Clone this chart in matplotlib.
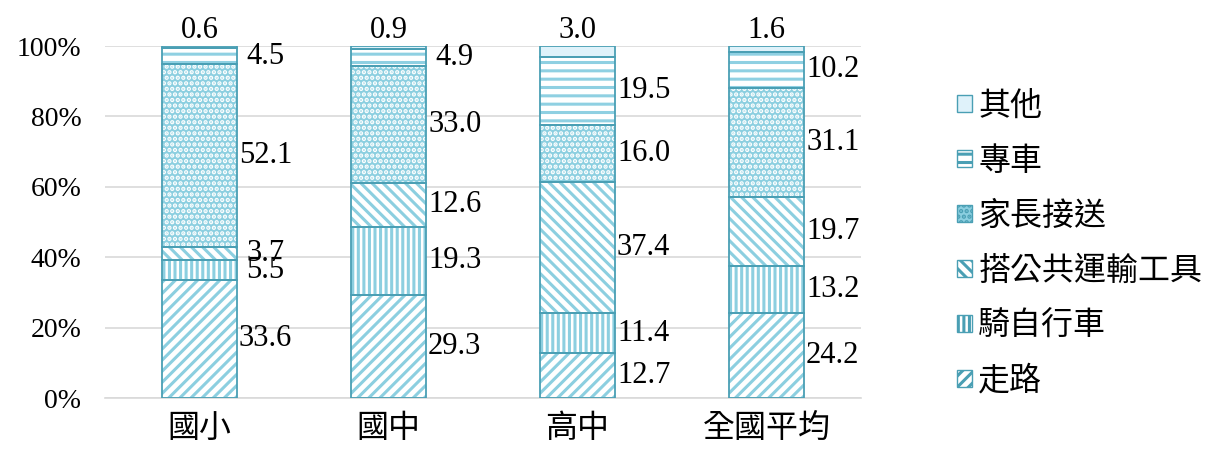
import matplotlib
matplotlib.use("Agg")
import matplotlib.pyplot as plt
from matplotlib.patches import Patch
import numpy as np

# 資料
groups = ['國小', '國中', '高中', '全國平均']
modes = ['走路', '騎自行車', '搭公共運輸工具', '家長接送', '專車', '其他']
walk = [33.6, 29.3, 12.7, 24.2]
bike = [5.5, 19.3, 11.4, 13.2]
public = [3.7, 12.6, 37.4, 19.7]
parent = [52.1, 33.0, 16.0, 31.1]
bus = [4.5, 4.9, 19.5, 10.2]
other = [0.6, 0.9, 3.0, 1.6]
series = [walk, bike, public, parent, bus, other]

# 樣式
edge = '#4a9fb4'
light = '#8ccfe0'
styles = [
    dict(face='white', hcol=light, hatch='///'),
    dict(face='white', hcol=light, hatch='|||'),
    dict(face='white', hcol=light, hatch='\\\\\\'),
    dict(face=light, hcol='white', hatch='...'),
    dict(face='white', hcol='#8fd0e2', hatch='--'),
    dict(face='#dff2fa', hcol='#dff2fa', hatch=None),
]

plt.rcParams['hatch.linewidth'] = 2.2
num_font = ['Liberation Serif', 'Noto Sans CJK TC']
cjk_font = ['Noto Sans CJK TC']

fig = plt.figure(figsize=(12.06, 4.53), dpi=100)
ax = fig.add_axes([0.087, 0.1214, 0.627, 0.777])

x = np.arange(len(groups))
w = 0.40
bottom = np.zeros(len(groups))
for vals, st in zip(series, styles):
    vals = np.array(vals)
    ax.bar(x, vals, w, bottom=bottom, color=st['face'], edgecolor=st['hcol'],
           hatch=st['hatch'], linewidth=0, zorder=2)
    ax.bar(x, vals, w, bottom=bottom, color='none', edgecolor=edge,
           linewidth=1.3, zorder=3)
    bottom += vals

# 數值標籤
bottom = np.zeros(len(groups))
for k, vals in enumerate(series):
    for i, v in enumerate(vals):
        if k == len(series) - 1:
            ax.text(x[i], 100.2, f'{v:.1f}', ha='center', va='bottom',
                    fontsize=22, family=num_font, zorder=4)
        else:
            ax.text(x[i] + 0.35, bottom[i] + v / 2, f'{v:.1f}', ha='center',
                    va='center', fontsize=22, family=num_font, zorder=4)
    bottom += np.array(vals)

ax.set_xlim(-0.5, len(groups) - 0.5)
ax.set_ylim(0, 100)
ax.set_yticks(range(0, 101, 20))
ax.set_yticklabels([f'{t}%' for t in range(0, 101, 20)], family=num_font, fontsize=20)
ax.set_xticks(x)
ax.set_xticklabels(groups, family=cjk_font, fontsize=23)
ax.tick_params(axis='y', length=0, pad=17)
ax.tick_params(axis='x', length=0, pad=10)
ax.yaxis.grid(True, color='#d9d9d9', linewidth=1.2, zorder=0)
ax.set_axisbelow(True)
for s in ['left', 'right', 'top']:
    ax.spines[s].set_visible(False)
ax.spines['bottom'].set_color('#d9d9d9')
ax.spines['bottom'].set_linewidth(1.2)

handles = []
for name, st in zip(modes, styles):
    handles.append(Patch(facecolor=st['face'], edgecolor=edge, hatch=st['hatch'],
                         linewidth=1, label=name))
leg = fig.legend(handles[::-1], modes[::-1], loc='center left',
                 bbox_to_anchor=(0.770, 0.4625), frameon=False,
                 prop={'family': cjk_font, 'size': 23}, labelspacing=0.72,
                 handlelength=0.45, handleheight=0.45, handletextpad=0.2)

fig.savefig('out.png', dpi=100)
